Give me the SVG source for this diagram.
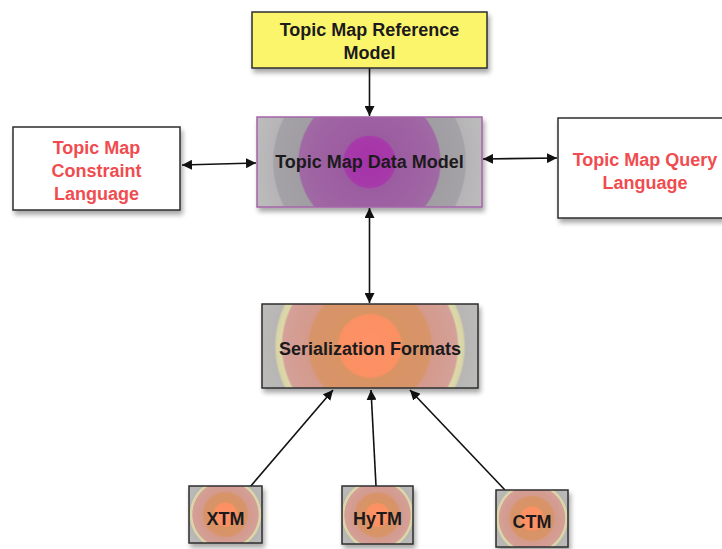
<svg xmlns="http://www.w3.org/2000/svg" width="722" height="549" viewBox="0 0 722 549">
  <style>
    .lbl { font-family: "Liberation Sans", Arial, sans-serif; font-weight: bold; font-size: 18px; text-anchor: middle; fill: #1c1a1c; }
    .red { fill: #f04c50; }
    .box { stroke: #2e2e2e; stroke-width: 1.5; }
    .edge { stroke: #111; stroke-width: 1.6; fill: none; }
  </style>
  <defs>
    <filter id="shadow" x="-10%" y="-10%" width="125%" height="135%">
      <feGaussianBlur in="SourceAlpha" stdDeviation="2.5"/>
      <feOffset dx="2" dy="4" result="b"/>
      <feComponentTransfer><feFuncA type="linear" slope="0.35"/></feComponentTransfer>
      <feMerge><feMergeNode/><feMergeNode in="SourceGraphic"/></feMerge>
    </filter>
    <marker id="arrow" viewBox="0 0 10 10" refX="10" refY="5" markerWidth="10" markerHeight="10" markerUnits="userSpaceOnUse" orient="auto-start-reverse">
      <path d="M0,0 L10,5 L0,10 Z" fill="#111"/>
    </marker>
    <radialGradient id="gData" gradientUnits="userSpaceOnUse" cx="369.5" cy="162" r="115">
      <stop offset="0" stop-color="#a632aa"/>
      <stop offset="0.22" stop-color="#a63aaa"/>
      <stop offset="0.235" stop-color="#9c5ca0"/>
      <stop offset="0.61" stop-color="#a068a4"/>
      <stop offset="0.625" stop-color="#a09ea2"/>
      <stop offset="0.83" stop-color="#a4a2a6"/>
      <stop offset="0.845" stop-color="#b6b4b6"/>
      <stop offset="1" stop-color="#bcbbbc"/>
    </radialGradient>
    <radialGradient id="gSer" gradientUnits="userSpaceOnUse" cx="370" cy="346" r="110">
      <stop offset="0" stop-color="#ff9266"/>
      <stop offset="0.28" stop-color="#fb9064"/>
      <stop offset="0.3" stop-color="#d89464"/>
      <stop offset="0.55" stop-color="#d8946a"/>
      <stop offset="0.57" stop-color="#d49a8c"/>
      <stop offset="0.79" stop-color="#d4a098"/>
      <stop offset="0.81" stop-color="#dcd8a8"/>
      <stop offset="0.85" stop-color="#d8d4a8"/>
      <stop offset="0.87" stop-color="#b8b6b4"/>
      <stop offset="1" stop-color="#bcbab8"/>
    </radialGradient>
    <radialGradient id="gSmall" gradientUnits="userSpaceOnUse" cx="0" cy="0" r="42">
      <stop offset="0" stop-color="#ff9266"/>
      <stop offset="0.27" stop-color="#fb9064"/>
      <stop offset="0.3" stop-color="#d89464"/>
      <stop offset="0.52" stop-color="#d8946a"/>
      <stop offset="0.55" stop-color="#d49a8c"/>
      <stop offset="0.78" stop-color="#d4a098"/>
      <stop offset="0.8" stop-color="#dcd8a8"/>
      <stop offset="0.84" stop-color="#d8d4a8"/>
      <stop offset="0.86" stop-color="#b8b6b4"/>
      <stop offset="1" stop-color="#bcbab8"/>
    </radialGradient>
    <radialGradient id="gXtm" href="#gSmall" cx="225.5" cy="514.5"/>
    <radialGradient id="gHytm" href="#gSmall" cx="377.5" cy="515"/>
    <radialGradient id="gCtm" href="#gSmall" cx="532" cy="518.5"/>
  </defs>

  <rect width="722" height="549" fill="#ffffff"/>

  <g id="connectors">
    <line class="edge" x1="369.5" y1="68" x2="369.5" y2="116" marker-end="url(#arrow)"/>
    <line class="edge" x1="182" y1="165" x2="256" y2="163" marker-start="url(#arrow)" marker-end="url(#arrow)"/>
    <line class="edge" x1="483" y1="159" x2="557" y2="158" marker-start="url(#arrow)" marker-end="url(#arrow)"/>
    <line class="edge" x1="369.5" y1="208" x2="369.5" y2="303" marker-start="url(#arrow)" marker-end="url(#arrow)"/>
    <line class="edge" x1="250" y1="487" x2="333" y2="390" marker-end="url(#arrow)"/>
    <line class="edge" x1="376" y1="486" x2="371" y2="390" marker-end="url(#arrow)"/>
    <line class="edge" x1="505" y1="490" x2="410" y2="390" marker-end="url(#arrow)"/>
  </g>

  <g id="reference-model">
    <rect class="box" x="252" y="12" width="235" height="56" fill="#fbf56c" filter="url(#shadow)"/>
    <text class="lbl" x="369.5" y="36">Topic Map Reference</text>
    <text class="lbl" x="369.5" y="59">Model</text>
  </g>

  <g id="data-model">
    <rect x="257" y="117" width="225" height="90" fill="url(#gData)" stroke="#a464a8" stroke-width="1.5" filter="url(#shadow)"/>
    <text class="lbl" x="369.5" y="168">Topic Map Data Model</text>
  </g>

  <g id="constraint-language">
    <rect class="box" x="13" y="127" width="167" height="83" fill="#ffffff" filter="url(#shadow)"/>
    <text class="lbl red" x="96.5" y="154">Topic Map</text>
    <text class="lbl red" x="96.5" y="177">Constraint</text>
    <text class="lbl red" x="96.5" y="200">Language</text>
  </g>

  <g id="query-language">
    <rect class="box" x="558" y="118" width="172" height="100" fill="#ffffff" filter="url(#shadow)"/>
    <text class="lbl red" x="645" y="166">Topic Map Query</text>
    <text class="lbl red" x="645" y="189">Language</text>
  </g>

  <g id="serialization-formats">
    <rect class="box" x="262" y="304" width="216" height="84" fill="url(#gSer)" filter="url(#shadow)"/>
    <text class="lbl" x="370" y="355">Serialization Formats</text>
  </g>

  <g id="xtm">
    <rect class="box" x="189" y="486" width="73" height="57" fill="url(#gXtm)" filter="url(#shadow)"/>
    <text class="lbl" x="225.5" y="525">XTM</text>
  </g>

  <g id="hytm">
    <rect class="box" x="342" y="486" width="71" height="58" fill="url(#gHytm)" filter="url(#shadow)"/>
    <text class="lbl" x="377.5" y="525">HyTM</text>
  </g>

  <g id="ctm">
    <rect class="box" x="496" y="490" width="72" height="57" fill="url(#gCtm)" filter="url(#shadow)"/>
    <text class="lbl" x="532" y="528">CTM</text>
  </g>
</svg>
